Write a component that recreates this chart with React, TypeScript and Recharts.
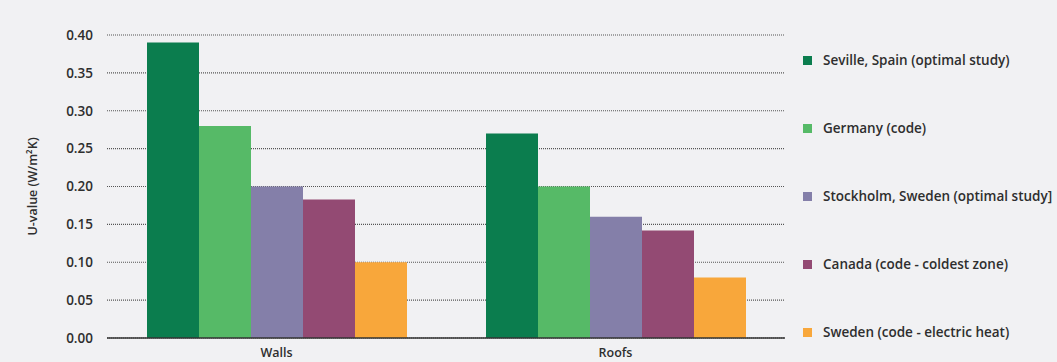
import { Bar, BarChart, CartesianGrid, XAxis, YAxis } from "recharts";

const categories = ["Walls", "Roofs"];
const seville = [0.39, 0.27];
const germany = [0.28, 0.2];
const stockholm = [0.2, 0.16];
const canada = [0.183, 0.142];
const swedenCode = [0.1, 0.08];
const yTicks = [0, 0.05, 0.1, 0.15, 0.2, 0.25, 0.3, 0.35, 0.4];

const series = [
  { key: "seville", name: "Seville, Spain (optimal study)", color: "#0b7d4e", values: seville },
  { key: "germany", name: "Germany (code)", color: "#56ba67", values: germany },
  { key: "stockholm", name: "Stockholm, Sweden (optimal study]", color: "#847fa9", values: stockholm },
  { key: "canada", name: "Canada (code - coldest zone)", color: "#934a73", values: canada },
  { key: "sweden", name: "Sweden (code - electric heat)", color: "#f8a73b", values: swedenCode },
];

const data = categories.map((c, i) => {
  const row: Record<string, string | number> = { category: c };
  series.forEach((s) => (row[s.key] = s.values[i]));
  return row;
});

const FONT = "'Open Sans', sans-serif";
const TEXT = "#2e2e2e";

// legend sits to the right of the plot, one row per series
function LegendList() {
  return (
    <div style={{ position: "absolute", left: 803, top: 26, fontFamily: FONT }}>
      {series.map((s) => (
        <div key={s.key} style={{ display: "flex", alignItems: "center", height: 68 }}>
          <span style={{ width: 9, height: 9, background: s.color, marginRight: 11, display: "inline-block", flexShrink: 0 }} />
          <span style={{ fontSize: 13.5, fontWeight: 600, color: TEXT, whiteSpace: "nowrap" }}>{s.name}</span>
        </div>
      ))}
    </div>
  );
}

export default function App() {
  return (
    <div style={{ position: "absolute", left: 0, top: 0, width: 1057, height: 362, background: "#f1f1f3", overflow: "hidden" }}>
      <BarChart
        width={1057}
        height={362}
        data={data}
        margin={{ top: 35, right: 272, bottom: 2, left: 47 }}
        barCategoryGap={40}
        barGap={0}
      >
        <CartesianGrid vertical={false} stroke="#555" strokeWidth={1.2} strokeDasharray="1 1" />
        <XAxis
          dataKey="category"
          height={22}
          tickLine={false}
          axisLine={{ stroke: "#333", strokeWidth: 1.5 }}
          tick={{ fontSize: 12.5, fontWeight: 600, fontFamily: FONT, fill: TEXT }}
          tickMargin={4}
        />
        <YAxis
          width={60}
          domain={[0, 0.4]}
          ticks={yTicks}
          tickFormatter={(v: number) => v.toFixed(2)}
          axisLine={false}
          tickLine={false}
          tickSize={0}
          tickMargin={14}
          tick={{ fontSize: 13.5, fontWeight: 600, fontFamily: FONT, fill: TEXT }}
          label={{
            value: "U-value (W/m²K)",
            angle: -90,
            position: "insideLeft",
            offset: -14,
            style: { fontSize: 12.5, fontWeight: 600, fontFamily: FONT, fill: TEXT, textAnchor: "middle" },
          }}
        />
        {series.map((s) => (
          <Bar key={s.key} dataKey={s.key} name={s.name} fill={s.color} isAnimationActive={false} />
        ))}
      </BarChart>
      <LegendList />
    </div>
  );
}
